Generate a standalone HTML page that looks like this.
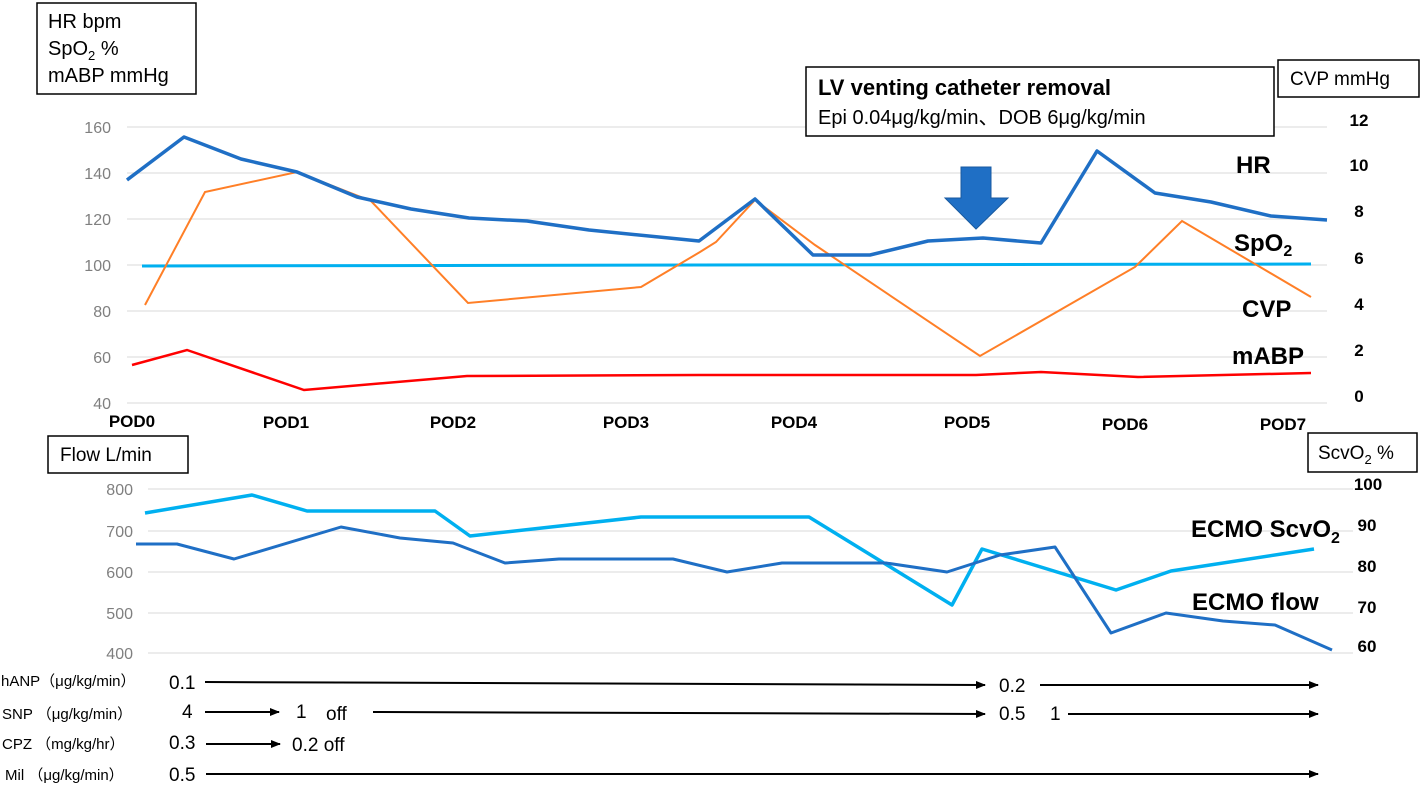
<!DOCTYPE html>
<html><head><meta charset="utf-8"><style>
html,body{margin:0;padding:0;background:#fff;}
svg{display:block;font-family:"Liberation Sans","Noto Sans CJK JP",sans-serif;}
</style></head><body>
<svg width="1422" height="786" viewBox="0 0 1422 786" xmlns="http://www.w3.org/2000/svg">
<defs><marker id="ah" markerWidth="10" markerHeight="8" refX="9" refY="4" orient="auto" markerUnits="userSpaceOnUse"><path d="M0,0 L10,4 L0,8 z" fill="#000"/></marker></defs>
<g stroke="#e0e0e0" stroke-width="1.2">
<line x1="127" x2="1327" y1="127" y2="127"/><line x1="127" x2="1327" y1="173" y2="173"/><line x1="127" x2="1327" y1="219" y2="219"/><line x1="127" x2="1327" y1="265" y2="265"/><line x1="127" x2="1327" y1="311" y2="311"/><line x1="127" x2="1327" y1="357" y2="357"/><line x1="127" x2="1327" y1="403" y2="403"/>
</g>
<g fill="#7f7f7f" font-size="16" text-anchor="end">
<text x="111" y="133">160</text><text x="111" y="179">140</text><text x="111" y="225">120</text><text x="111" y="271">100</text><text x="111" y="317">80</text><text x="111" y="363">60</text><text x="111" y="409">40</text>
</g>
<g fill="#000" font-size="17" font-weight="bold" text-anchor="middle">
<text x="1359" y="126">12</text><text x="1359" y="171">10</text><text x="1359" y="217">8</text><text x="1359" y="264">6</text><text x="1359" y="310">4</text><text x="1359" y="356">2</text><text x="1359" y="402">0</text>
</g>
<g fill="#000" font-size="17" font-weight="bold" text-anchor="middle">
<text x="132" y="427">POD0</text><text x="286" y="428">POD1</text><text x="453" y="428">POD2</text><text x="626" y="428">POD3</text><text x="794" y="428">POD4</text><text x="967" y="428">POD5</text><text x="1125" y="430">POD6</text><text x="1283" y="430">POD7</text>
</g>
<polyline fill="none" stroke="#00b0f0" stroke-width="3" points="142,266 700,265 1311,264"/>
<polyline fill="none" stroke="#ff0000" stroke-width="2.5" points="132,365 187,350 304,390 467,376 699,375 976,375 1041,372 1138,377 1311,373"/>
<polyline fill="none" stroke="#ff7f27" stroke-width="2" points="145,305 205,192 297,172 371,201 468,303 641,287 700,252 716,242 755,200 815,245 980,356 1135,267 1182,221 1311,297"/>
<polyline fill="none" stroke="#1f6fc5" stroke-width="3.5" stroke-linejoin="round" points="127,180 184,137 241,159 297,172 357,197 411,209 469,218 527,221 589,230 699,241 755,199 813,255 870,255 928,241 983,238 1041,243 1097,151 1155,193 1211,202 1271,216 1327,220"/>
<path d="M961,167 L991,167 L991,198 L1008,198 L976,229 L945,198 L961,198 z" fill="#1f6fc5" stroke="#185aa0" stroke-width="1"/>
<g fill="#000" font-size="24" font-weight="bold">
<text x="1236" y="173">HR</text><text x="1234" y="251">SpO<tspan font-size="16" dy="5">2</tspan></text><text x="1242" y="317">CVP</text><text x="1232" y="364">mABP</text>
</g>
<rect x="37" y="3" width="159" height="91" fill="#fff" stroke="#000" stroke-width="1.5"/>
<g font-size="20" fill="#000"><text x="48" y="28">HR bpm</text><text x="48" y="55">SpO<tspan font-size="13" dy="5">2</tspan><tspan dy="-5"> %</tspan></text><text x="48" y="82">mABP mmHg</text></g>
<rect x="806" y="67" width="468" height="69" fill="#fff" stroke="#000" stroke-width="1.5"/>
<text x="818" y="95" font-size="22" font-weight="bold">LV venting catheter removal</text>
<text x="818" y="124" font-size="20">Epi 0.04μg/kg/min、DOB 6μg/kg/min</text>
<rect x="1278" y="60" width="141" height="37" fill="#fff" stroke="#000" stroke-width="1.5"/>
<text x="1290" y="85" font-size="19">CVP mmHg</text>
<g stroke="#e0e0e0" stroke-width="1.2">
<line x1="148" x2="1353" y1="489" y2="489"/><line x1="148" x2="1353" y1="531" y2="531"/><line x1="148" x2="1353" y1="572" y2="572"/><line x1="148" x2="1353" y1="613" y2="613"/><line x1="148" x2="1353" y1="653" y2="653"/>
</g>
<g fill="#7f7f7f" font-size="16" text-anchor="end">
<text x="133" y="495">800</text><text x="133" y="537">700</text><text x="133" y="578">600</text><text x="133" y="619">500</text><text x="133" y="659">400</text>
</g>
<g fill="#000" font-size="17" font-weight="bold" text-anchor="middle">
<text x="1368" y="490">100</text><text x="1367" y="531">90</text><text x="1367" y="572">80</text><text x="1367" y="613">70</text><text x="1367" y="652">60</text>
</g>
<polyline fill="none" stroke="#00b0f0" stroke-width="3.5" stroke-linejoin="round" points="145,513 252,495 307,511 435,511 470,536 641,517 809,517 952,605 982,549 1116,590 1171,571 1314,549"/>
<polyline fill="none" stroke="#1f6fc5" stroke-width="3" stroke-linejoin="round" points="136,544 177,544 234,559 341,527 400,538 453,543 505,563 559,559 673,559 727,572 782,563 886,563 947,572 1000,555 1055,547 1111,633 1166,613 1223,621 1275,625 1332,650"/>
<g fill="#000" font-size="24" font-weight="bold">
<text x="1191" y="537">ECMO ScvO<tspan font-size="16" dy="6">2</tspan></text><text x="1192" y="610">ECMO flow</text>
</g>
<rect x="48" y="436" width="140" height="37" fill="#fff" stroke="#000" stroke-width="1.5"/>
<text x="60" y="461" font-size="19">Flow L/min</text>
<rect x="1308" y="433" width="109" height="39" fill="#fff" stroke="#000" stroke-width="1.5"/>
<text x="1318" y="459" font-size="19">ScvO<tspan font-size="13" dy="5">2</tspan><tspan dy="-5"> %</tspan></text>
<g fill="#000" font-size="15">
<text x="1" y="686">hANP（μg/kg/min）</text>
<text x="2" y="719">SNP （μg/kg/min）</text>
<text x="2" y="749">CPZ （mg/kg/hr）</text>
<text x="5" y="780">Mil （μg/kg/min）</text>
</g>
<g fill="#000" font-size="19">
<text x="169" y="689">0.1</text><text x="182" y="718">4</text><text x="296" y="718">1</text><text x="326" y="720">off</text>
<text x="169" y="749">0.3</text><text x="292" y="751">0.2 off</text><text x="169" y="781">0.5</text>
<text x="999" y="692">0.2</text><text x="999" y="720">0.5</text><text x="1050" y="720">1</text>
</g>
<g stroke="#000" stroke-width="2" marker-end="url(#ah)">
<line x1="205" y1="682" x2="985" y2="685"/>
<line x1="1040" y1="685" x2="1318" y2="685"/>
<line x1="205" y1="712" x2="279" y2="712"/>
<line x1="373" y1="712" x2="985" y2="714"/>
<line x1="1068" y1="714" x2="1318" y2="714"/>
<line x1="206" y1="744" x2="280" y2="744"/>
<line x1="206" y1="774" x2="1318" y2="774"/>
</g>
</svg>
</body></html>
